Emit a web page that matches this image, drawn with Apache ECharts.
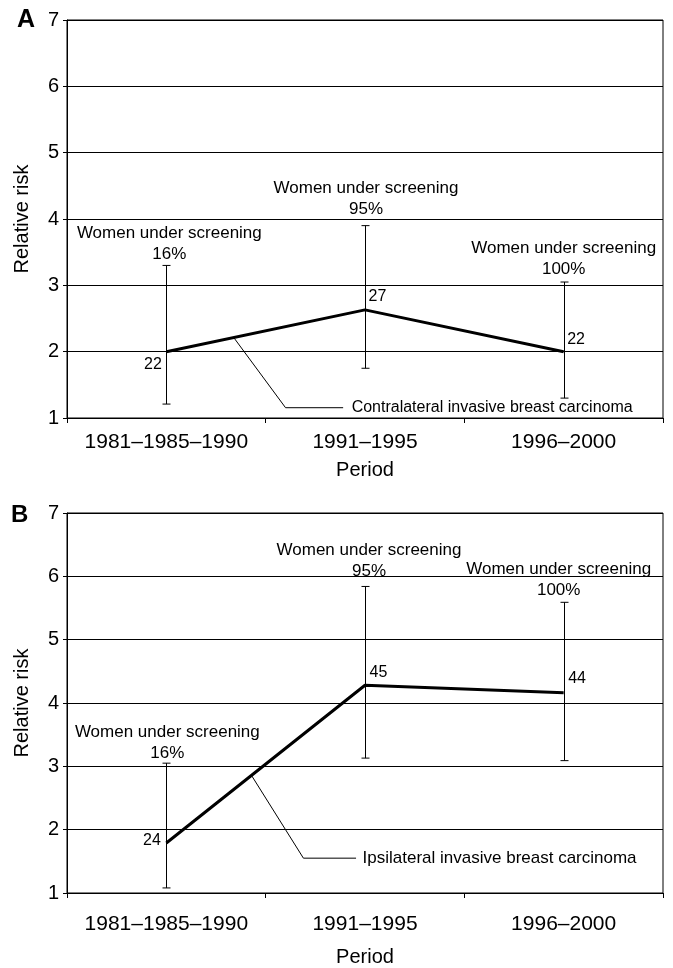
<!DOCTYPE html>
<html>
<head>
<meta charset="utf-8">
<script src="https://cdn.jsdelivr.net/npm/echarts@6/dist/echarts.min.js"></script>
<style>
  html, body { margin: 0; padding: 0; background: #fff; }
  #main { width: 673px; height: 968px; }
</style>
</head>
<body>
<div id="main"></div>
<script>
// categories and values
const periods = ["1981–1985–1990", "1991–1995", "1996–2000"];
const screened = ["16%", "95%", "100%"];

// A: contralateral
const rrContra = [2.0, 2.63, 2.0];
const loContra = [1.21, 1.75, 1.3];
const hiContra = [3.3, 3.9, 3.05];
const casesContra = [22, 27, 22];

// B: ipsilateral
const rrIpsi = [1.79, 4.28, 4.16];
const loIpsi = [1.08, 3.13, 3.09];
const hiIpsi = [3.05, 5.84, 5.59];
const casesIpsi = [24, 45, 44];

// leader lines to the series names (x in category units, y in relative risk)
const leaderContraX = [0.34, 0.6, 0.89];
const leaderContraY = [2.21, 1.155, 1.155];
const leaderIpsiX = [0.43, 0.69, 0.955];
const leaderIpsiY = [2.85, 1.55, 1.55];

const FONT = "'Liberation Sans', Arial, sans-serif";

const chart = echarts.init(document.getElementById("main"));

function catAxis(gridIndex, labelMargin, nameGap) {
  return {
    type: "category",
    gridIndex: gridIndex,
    data: periods,
    boundaryGap: true,
    axisLine: { onZero: false, lineStyle: { color: "#000", width: 1 } },
    axisTick: { show: true, interval: 0, length: 5, lineStyle: { color: "#000" } },
    axisLabel: { color: "#000", fontSize: 21, fontFamily: FONT, margin: labelMargin, interval: 0 },
    name: "Period",
    nameLocation: "middle",
    nameGap: nameGap,
    nameTextStyle: { color: "#000", fontSize: 20, fontFamily: FONT },
  };
}

function valAxisX(gridIndex) {
  return { type: "value", gridIndex: gridIndex, min: -0.5, max: 2.5, show: false };
}

function yAxis(gridIndex) {
  return {
    type: "value",
    gridIndex: gridIndex,
    min: 1,
    max: 7,
    interval: 1,
    axisLine: { show: true, onZero: false, lineStyle: { color: "#000", width: 1 } },
    axisTick: { show: true, length: 4, lineStyle: { color: "#000" } },
    axisLabel: { color: "#000", fontSize: 20, fontFamily: FONT, margin: 8 },
    splitLine: { show: true, lineStyle: { color: "#000", width: 1 } },
    name: "Relative risk",
    nameLocation: "middle",
    nameGap: 35,
    nameTextStyle: { color: "#000", fontSize: 20, fontFamily: FONT },
  };
}

function errorBars(axisIdx, lo, hi) {
  return {
    type: "custom",
    xAxisIndex: axisIdx,
    yAxisIndex: axisIdx,
    silent: true,
    z: 2,
    data: periods.map((p, i) => [i, lo[i], hi[i]]),
    encode: { x: 0, y: [1, 2] },
    renderItem: function (params, api) {
      const a = api.coord([api.value(0), api.value(1)]);
      const b = api.coord([api.value(0), api.value(2)]);
      const x = Math.round(a[0]) + 0.5;
      const st = { stroke: "#000", lineWidth: 1 };
      return {
        type: "group",
        children: [
          { type: "line", shape: { x1: x, y1: a[1], x2: x, y2: b[1] }, style: st },
          { type: "line", shape: { x1: x - 4, y1: a[1], x2: x + 4, y2: a[1] }, style: st },
          { type: "line", shape: { x1: x - 4, y1: b[1], x2: x + 4, y2: b[1] }, style: st },
        ],
      };
    },
  };
}

function mainLine(axisIdx, rr, cases, labelPlace) {
  return {
    type: "line",
    xAxisIndex: axisIdx,
    yAxisIndex: axisIdx,
    z: 3,
    symbol: "circle",
    symbolSize: 1,
    showSymbol: true,
    silent: true,
    itemStyle: { color: "rgba(0,0,0,0)" },
    lineStyle: { color: "#000", width: 3 },
    data: rr.map((v, i) => ({
      value: v,
      label: Object.assign(
        { show: true, formatter: String(cases[i]), color: "#000", fontSize: 16, fontFamily: FONT },
        labelPlace[i]
      ),
    })),
  };
}

function screeningNotes(axisIdx, hi, offsets) {
  return {
    type: "scatter",
    xAxisIndex: axisIdx,
    yAxisIndex: axisIdx,
    symbolSize: 1,
    silent: true,
    itemStyle: { color: "rgba(0,0,0,0)", opacity: 1 },
    data: hi.map((v, i) => ({
      value: [i, v],
      label: {
        show: true,
        position: "top",
        distance: 0,
        offset: offsets[i],
        formatter: "Women under screening\n" + screened[i],
        align: "center",
        color: "#000",
        fontSize: 17,
        lineHeight: 21,
        fontFamily: FONT,
      },
    })),
  };
}

function leader(valIdx, yIdx, xs, ys, name, gap, size) {
  return {
    type: "line",
    xAxisIndex: valIdx,
    yAxisIndex: yIdx,
    symbol: "circle",
    symbolSize: 1,
    showSymbol: true,
    silent: true,
    z: 2,
    itemStyle: { color: "rgba(0,0,0,0)" },
    lineStyle: { color: "#000", width: 1 },
    data: xs.map((x, i) => ({
      value: [x, ys[i]],
      label: i === xs.length - 1
        ? { show: true, position: "right", distance: gap, formatter: name, color: "#000", fontSize: size, fontFamily: FONT }
        : { show: false },
    })),
  };
}

const option = {
  backgroundColor: "#fff",
  animation: false,
  textStyle: { fontFamily: FONT },
  grid: [
    { left: 67, right: 10, top: 20, height: 398, show: true, borderColor: "#000", borderWidth: 1 },
    { left: 67, right: 10, top: 513, height: 381, show: true, borderColor: "#000", borderWidth: 1 },
  ],
  xAxis: [catAxis(0, 14, 42), catAxis(1, 21, 54), valAxisX(0), valAxisX(1)],
  yAxis: [yAxis(0), yAxis(1)],
  graphic: [
    { type: "text", left: 17, top: 8, style: { text: "A", fill: "#000", font: "bold 25px " + FONT } },
    { type: "text", left: 11, top: 503, style: { text: "B", fill: "#000", font: "bold 24px " + FONT } },
  ],
  series: [
    errorBars(0, loContra, hiContra),
    mainLine(0, rrContra, casesContra, [
      { position: "left", distance: 4, offset: [0, 13] },
      { position: "right", distance: 3, offset: [0, -13] },
      { position: "right", distance: 3, offset: [0, -12] },
    ]),
    screeningNotes(0, hiContra, [[3, 0], [1, -5], [0, -2]]),
    leader(2, 0, leaderContraX, leaderContraY, "Contralateral invasive breast carcinoma", 8, 16),

    errorBars(1, loIpsi, hiIpsi),
    mainLine(1, rrIpsi, casesIpsi, [
      { position: "left", distance: 5, offset: [0, -2] },
      { position: "right", distance: 4, offset: [0, -13] },
      { position: "right", distance: 4, offset: [0, -14] },
    ]),
    screeningNotes(1, hiIpsi, [[1, 1], [4, -4], [-5, -1]]),
    leader(3, 1, leaderIpsiX, leaderIpsiY, "Ipsilateral invasive breast carcinoma", 6, 17),
  ],
};

chart.setOption(option);
</script>
</body>
</html>
